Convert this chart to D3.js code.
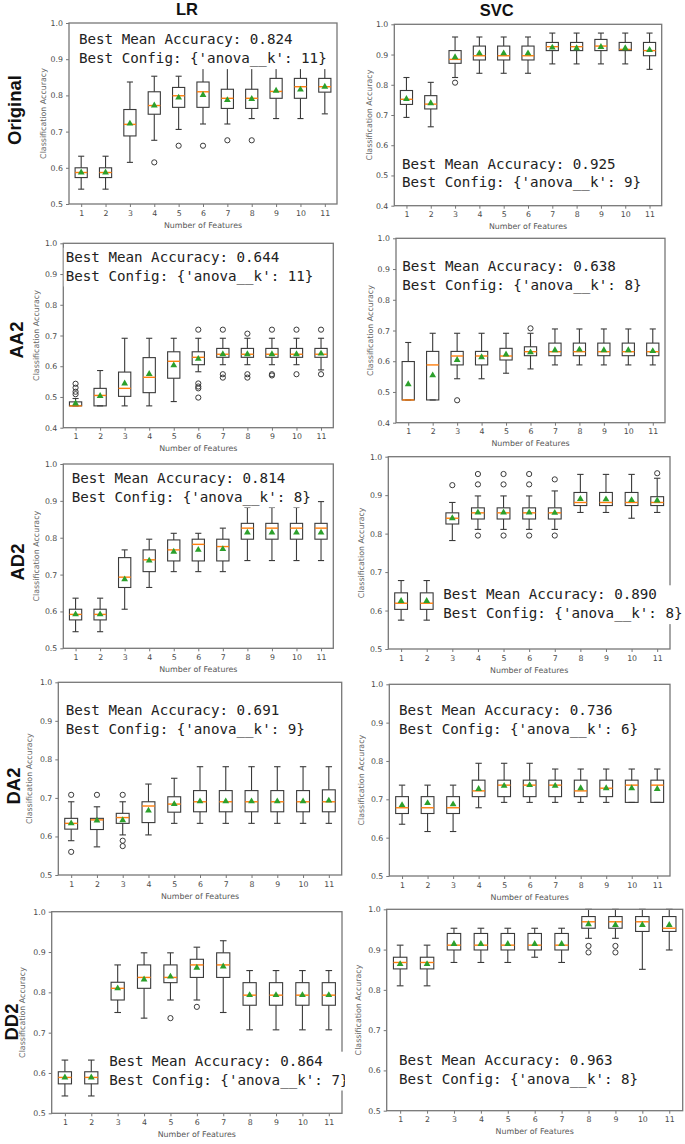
<!DOCTYPE html>
<html><head><meta charset="utf-8">
<script src="https://cdn.jsdelivr.net/npm/d3@7"></script>
<style>body{margin:0;background:#fff}</style>
</head><body><svg id="c" width="685" height="1144"></svg>
<script>
// ---------- DATA ----------
const features = [1,2,3,4,5,6,7,8,9,10,11];
const columnTitles = ["LR","SVC"];
const rowTitles = ["Original","AA2","AD2","DA2","DD2"];
const yTicksWide = [0.4,0.5,0.6,0.7,0.8,0.9,1.0];
const yTicksNarrow = [0.5,0.6,0.7,0.8,0.9,1.0];
const bestMean = ["0.824","0.925","0.644","0.638","0.814","0.890","0.691","0.736","0.864","0.963"];
const bestK = ["11","9","11","8","8","8","9","6","7","8"];

// each box: [whiskerLow, q1, median, q3, whiskerHigh, mean]
const lrOriginal = [
 [0.541,0.573,0.587,0.600,0.632,0.587],[0.541,0.573,0.587,0.600,0.632,0.587],
 [0.615,0.688,0.720,0.761,0.837,0.722],[0.676,0.748,0.772,0.810,0.853,0.772],
 [0.706,0.767,0.799,0.822,0.853,0.794],[0.721,0.767,0.810,0.837,0.882,0.801],
 [0.721,0.764,0.792,0.817,0.882,0.787],[0.736,0.764,0.792,0.817,0.882,0.790],
 [0.736,0.792,0.811,0.847,0.882,0.813],[0.736,0.792,0.824,0.847,0.882,0.816],
 [0.749,0.809,0.824,0.847,0.882,0.824]];
const lrOriginalOutliers = [[],[],[],[0.615],[0.661],[0.661],[0.676],[0.676],[],[],[]];

const svcOriginal = [
 [0.692,0.735,0.752,0.781,0.824,0.753],[0.661,0.720,0.736,0.764,0.808,0.739],
 [0.824,0.871,0.884,0.913,0.958,0.891],[0.838,0.882,0.896,0.928,0.958,0.904],
 [0.838,0.882,0.896,0.928,0.958,0.904],[0.838,0.882,0.896,0.928,0.958,0.904],
 [0.869,0.913,0.926,0.940,0.971,0.923],[0.869,0.913,0.926,0.940,0.971,0.921],
 [0.869,0.913,0.928,0.950,0.971,0.925],[0.869,0.913,0.917,0.940,0.971,0.921],
 [0.851,0.896,0.913,0.940,0.971,0.915]];
const svcOriginalOutliers = [[],[],[0.807],[],[],[],[],[],[],[],[]];

const lrAA2 = [
 [0.471,0.471,0.471,0.484,0.495,0.479],[0.471,0.471,0.505,0.528,0.586,0.503],
 [0.471,0.502,0.528,0.581,0.691,0.544],[0.471,0.514,0.564,0.628,0.691,0.575],
 [0.485,0.561,0.616,0.647,0.691,0.603],[0.582,0.605,0.629,0.647,0.691,0.624],
 [0.605,0.629,0.639,0.658,0.691,0.639],[0.605,0.629,0.639,0.658,0.691,0.639],
 [0.605,0.629,0.639,0.658,0.691,0.639],[0.605,0.629,0.639,0.658,0.691,0.639],
 [0.588,0.629,0.639,0.658,0.691,0.641]];
const lrAA2Outliers = [[0.543,0.530,0.517,0.509],[],[],[],[],[0.719,0.544,0.534,0.528,0.498],
 [0.719,0.574,0.563],[0.706,0.574,0.563],[0.719,0.574,0.570],[0.719,0.574],[0.719,0.574]];

const svcAA2 = [
 [0.474,0.474,0.474,0.599,0.661,0.525],[0.474,0.474,0.588,0.632,0.691,0.554],
 [0.543,0.588,0.617,0.632,0.691,0.604],[0.543,0.588,0.617,0.632,0.691,0.613],
 [0.561,0.604,0.617,0.642,0.691,0.622],[0.575,0.618,0.631,0.647,0.691,0.629],
 [0.588,0.618,0.631,0.659,0.705,0.636],[0.588,0.618,0.631,0.659,0.705,0.638],
 [0.588,0.618,0.631,0.659,0.705,0.636],[0.588,0.618,0.631,0.659,0.705,0.636],
 [0.588,0.618,0.631,0.659,0.705,0.633]];
const svcAA2Outliers = [[],[],[0.473],[],[],[0.707],[],[],[],[],[]];

const lrAD2 = [
 [0.545,0.577,0.592,0.606,0.636,0.592],[0.545,0.577,0.592,0.606,0.636,0.592],
 [0.606,0.665,0.693,0.746,0.767,0.687],[0.665,0.708,0.740,0.767,0.796,0.738],
 [0.708,0.737,0.767,0.794,0.812,0.762],[0.708,0.737,0.782,0.796,0.812,0.767],
 [0.708,0.737,0.776,0.796,0.826,0.769],[0.738,0.796,0.826,0.839,0.882,0.814],
 [0.738,0.796,0.826,0.839,0.882,0.814],[0.738,0.796,0.826,0.839,0.882,0.814],
 [0.738,0.796,0.826,0.839,0.898,0.814]];
const lrAD2Outliers = [[],[],[],[],[],[],[],[],[],[],[]];

const svcAD2 = [
 [0.575,0.603,0.619,0.646,0.678,0.625],[0.575,0.603,0.619,0.646,0.678,0.625],
 [0.782,0.825,0.840,0.854,0.881,0.840],[0.811,0.838,0.854,0.867,0.898,0.855],
 [0.811,0.838,0.854,0.867,0.898,0.855],[0.811,0.838,0.854,0.867,0.898,0.855],
 [0.811,0.838,0.854,0.867,0.911,0.854],[0.855,0.873,0.881,0.907,0.954,0.890],
 [0.855,0.873,0.881,0.907,0.954,0.889],[0.840,0.873,0.881,0.907,0.954,0.887],
 [0.855,0.873,0.881,0.896,0.944,0.886]];
const svcAD2Outliers = [[],[],[0.926],[0.955,0.928,0.795],[0.955,0.928,0.795],[0.955,0.928,0.795],
 [0.941,0.795],[],[],[],[0.957]];

const lrDA2 = [
 [0.589,0.619,0.634,0.647,0.690,0.634],[0.573,0.618,0.643,0.647,0.677,0.641],
 [0.604,0.634,0.649,0.660,0.690,0.642],[0.604,0.636,0.679,0.690,0.736,0.667],
 [0.634,0.663,0.684,0.703,0.751,0.684],[0.634,0.664,0.690,0.719,0.781,0.691],
 [0.634,0.664,0.690,0.719,0.781,0.691],[0.634,0.664,0.690,0.719,0.781,0.691],
 [0.634,0.664,0.690,0.719,0.781,0.691],[0.634,0.664,0.690,0.719,0.781,0.691],
 [0.634,0.664,0.690,0.721,0.781,0.693]];
const lrDA2Outliers = [[0.708,0.560],[0.708],[0.708,0.589,0.575],[],[],[],[],[],[],[],[]];

const svcDA2 = [
 [0.635,0.663,0.678,0.707,0.737,0.685],[0.616,0.663,0.678,0.707,0.737,0.690],
 [0.616,0.663,0.678,0.707,0.737,0.687],[0.678,0.707,0.722,0.750,0.794,0.727],
 [0.692,0.707,0.737,0.750,0.794,0.735],[0.692,0.707,0.737,0.750,0.794,0.737],
 [0.692,0.707,0.737,0.750,0.779,0.735],[0.692,0.707,0.722,0.750,0.779,0.729],
 [0.692,0.707,0.729,0.750,0.779,0.729],[0.692,0.692,0.737,0.750,0.779,0.729],
 [0.692,0.692,0.737,0.750,0.779,0.727]];
const svcDA2Outliers = [[],[],[],[],[],[],[],[],[],[],[]];

const lrDD2 = [
 [0.543,0.573,0.589,0.603,0.632,0.589],[0.543,0.573,0.589,0.603,0.632,0.589],
 [0.750,0.781,0.810,0.825,0.868,0.810],[0.736,0.810,0.837,0.868,0.898,0.832],
 [0.781,0.824,0.837,0.868,0.898,0.839],[0.781,0.837,0.868,0.882,0.912,0.861],
 [0.750,0.837,0.868,0.898,0.928,0.864],[0.707,0.768,0.793,0.824,0.854,0.793],
 [0.707,0.768,0.793,0.824,0.854,0.793],[0.707,0.768,0.793,0.824,0.854,0.793],
 [0.707,0.768,0.793,0.824,0.854,0.793]];
const lrDD2Outliers = [[],[],[],[],[0.736],[0.764],[],[],[],[],[]];

const svcDD2 = [
 [0.810,0.852,0.868,0.881,0.911,0.864],[0.810,0.852,0.868,0.881,0.911,0.864],
 [0.868,0.899,0.911,0.940,0.953,0.914],[0.868,0.899,0.911,0.940,0.953,0.914],
 [0.868,0.899,0.911,0.940,0.953,0.914],[0.881,0.899,0.911,0.940,0.953,0.914],
 [0.868,0.899,0.911,0.940,0.953,0.914],[0.928,0.953,0.969,0.982,1.000,0.963],
 [0.928,0.953,0.969,0.982,1.000,0.961],[0.851,0.945,0.969,0.982,1.000,0.961],
 [0.899,0.945,0.953,0.982,1.000,0.961]];
const svcDD2Outliers = [[],[],[],[],[],[],[],[0.909,0.893],[0.909,0.893],[],[]];

// ---------- LAYOUT ----------
const panels = [
 {s:lrOriginal, o:lrOriginalOutliers, r:[69,337,23,204], t:yTicksNarrow, tx:[79,39.3], yl:42.7, col:0},
 {s:svcOriginal, o:svcOriginalOutliers, r:[394.3,661.7,24.3,205.7], t:yTicksWide, tx:[402,163.5], yl:369.3, col:1},
 {s:lrAA2, o:lrAA2Outliers, r:[63.3,333.3,243.3,427.7], t:yTicksWide, tx:[65.7,256.7], yl:36, col:0},
 {s:svcAA2, o:svcAA2Outliers, r:[396,665,238.3,422.7], t:yTicksWide, tx:[402.3,265.7], yl:370, col:1},
 {s:lrAD2, o:lrAD2Outliers, r:[63.3,333.3,464,648.3], t:yTicksNarrow, tx:[71.7,477.7], yl:36, col:0},
 {s:svcAD2, o:svcAD2Outliers, r:[388.3,670,456.7,649], t:yTicksNarrow, tx:[443.3,594.3], yl:360.7, col:1},
 {s:lrDA2, o:lrDA2Outliers, r:[58.3,341.7,682.3,875], t:yTicksNarrow, tx:[65.7,710], yl:29.3, col:0},
 {s:svcDA2, o:svcDA2Outliers, r:[389.3,670,684.3,876], t:yTicksNarrow, tx:[399,710], yl:360.7, col:1},
 {s:lrDD2, o:lrDD2Outliers, r:[51.7,342,911.7,1113.3], t:yTicksNarrow, tx:[109.3,1060.7], yl:21.7, col:0},
 {s:svcDD2, o:svcDD2Outliers, r:[386.7,682.7,909.3,1110.7], t:yTicksNarrow, tx:[399,1060], yl:358.3, col:1}
];

const svg = d3.select("#c");
svg.append("defs").append("clipPath").attr("id","leftclip")
  .append("rect").attr("x",0).attr("y",0).attr("width",345).attr("height",1144);

const tickFont = "DejaVu Sans, sans-serif";
const boxColor = "#3a3a3a";

panels.forEach((p, pi) => {
  const [x0,x1,y0,y1] = p.r;
  const g = svg.append("g");
  if (p.col === 0) g.attr("clip-path","url(#leftclip)");
  const x = d3.scaleLinear().domain([0.5,11.5]).range([x0,x1]);
  const y = d3.scaleLinear().domain([p.t[0],1.0]).range([y1,y0]);
  const step = x(2)-x(1);
  const bw = step*0.5, cw = bw*0.5;

  // axes
  const xa = g.append("g").attr("transform",`translate(0,${y1})`)
    .call(d3.axisBottom(x).tickValues(features).tickFormat(d3.format("d")).tickSize(3).tickPadding(3));
  const ya = g.append("g").attr("transform",`translate(${x0},0)`)
    .call(d3.axisLeft(y).tickValues(p.t).tickFormat(d3.format(".1f")).tickSize(3).tickPadding(3));
  [xa,ya].forEach(a=>{
    a.select(".domain").remove();
    a.selectAll(".tick line").attr("stroke","#666").attr("stroke-width",0.9);
    a.selectAll(".tick text").attr("fill","#4a4a4a").style("font-family",tickFont).style("font-size","7.8px");
  });

  // axis titles
  g.append("text").attr("x",(x0+x1)/2).attr("y",y1+23.5).attr("text-anchor","middle")
    .style("font-family",tickFont).style("font-size","7.9px").attr("fill","#555").text("Number of Features");
  g.append("text").attr("transform",`translate(${p.yl+3},${(y0+y1)/2}) rotate(-90)`)
    .attr("text-anchor","middle").style("font-family",tickFont).style("font-size","7.9px")
    .attr("fill","#666").text("Classification Accuracy");

  // boxes
  p.s.forEach((b, i) => {
    const cx = x(features[i]);
    const [lo,q1,med,q3,hi,mean] = b;
    const bg = g.append("g");
    bg.append("line").attr("x1",cx).attr("x2",cx).attr("y1",y(q3)).attr("y2",y(hi)).attr("stroke",boxColor).attr("stroke-width",1.1);
    bg.append("line").attr("x1",cx).attr("x2",cx).attr("y1",y(q1)).attr("y2",y(lo)).attr("stroke",boxColor).attr("stroke-width",1.1);
    bg.append("line").attr("x1",cx-cw/2).attr("x2",cx+cw/2).attr("y1",y(hi)).attr("y2",y(hi)).attr("stroke",boxColor).attr("stroke-width",1.1);
    bg.append("line").attr("x1",cx-cw/2).attr("x2",cx+cw/2).attr("y1",y(lo)).attr("y2",y(lo)).attr("stroke",boxColor).attr("stroke-width",1.1);
    bg.append("rect").attr("x",cx-bw/2).attr("y",y(q3)).attr("width",bw).attr("height",Math.max(0,y(q1)-y(q3)))
      .attr("fill","none").attr("stroke",boxColor).attr("stroke-width",1.1);
    bg.append("line").attr("x1",cx-bw/2).attr("x2",cx+bw/2).attr("y1",y(med)).attr("y2",y(med)).attr("stroke","#ff7f0e").attr("stroke-width",1.4);
    p.o[i].forEach(v => {
      bg.append("circle").attr("cx",cx).attr("cy",y(v)).attr("r",2.6).attr("fill","none").attr("stroke",boxColor).attr("stroke-width",1);
    });
    bg.append("path").attr("d",d3.symbol(d3.symbolTriangle,20)())
      .attr("transform",`translate(${cx},${y(mean)})`).attr("fill","#2ca02c");
  });

  // text box
  const tg = g.append("g");
  const bgRect = tg.append("rect").attr("fill","#fff");
  const lines = [`Best Mean Accuracy: ${bestMean[pi]}`, `Best Config: {'anova__k': ${bestK[pi]}}`];
  lines.forEach((l, li) => {
    tg.append("text").attr("x",p.tx[0]).attr("y",p.tx[1]+li*18.8).attr("dominant-baseline","central")
      .style("font-family","DejaVu Sans Mono, monospace").style("font-size","14.2px").attr("fill","#222")
      .attr("xml:space","preserve").text(l);
  });
  const bb = tg.node().getBBox();
  bgRect.attr("x",bb.x-2).attr("y",bb.y-1).attr("width",bb.width+4).attr("height",bb.height+3);

  // frame
  g.append("rect").attr("x",x0).attr("y",y0).attr("width",x1-x0).attr("height",y1-y0)
    .attr("fill","none").attr("stroke","#777").attr("stroke-width",1.3);
  tg.raise();
});

// column titles
[[187,15],[496.7,16]].forEach((c,i)=>{
  svg.append("text").attr("x",c[0]).attr("y",c[1]).attr("text-anchor","middle")
    .style("font-family","Liberation Sans, Arial, sans-serif").style("font-weight","bold").style("font-size","16.5px")
    .attr("fill","#111").text(columnTitles[i]);
});
// row titles
[[21,110],[23,340],[24,562],[19.5,786],[17.5,1022]].forEach((r,i)=>{
  svg.append("text").attr("transform",`translate(${r[0]},${r[1]}) rotate(-90)`).attr("text-anchor","middle")
    .style("font-family","Liberation Sans, Arial, sans-serif").style("font-weight","bold").style("font-size","18.5px")
    .attr("fill","#111").text(rowTitles[i]);
});
</script>
</body></html>
